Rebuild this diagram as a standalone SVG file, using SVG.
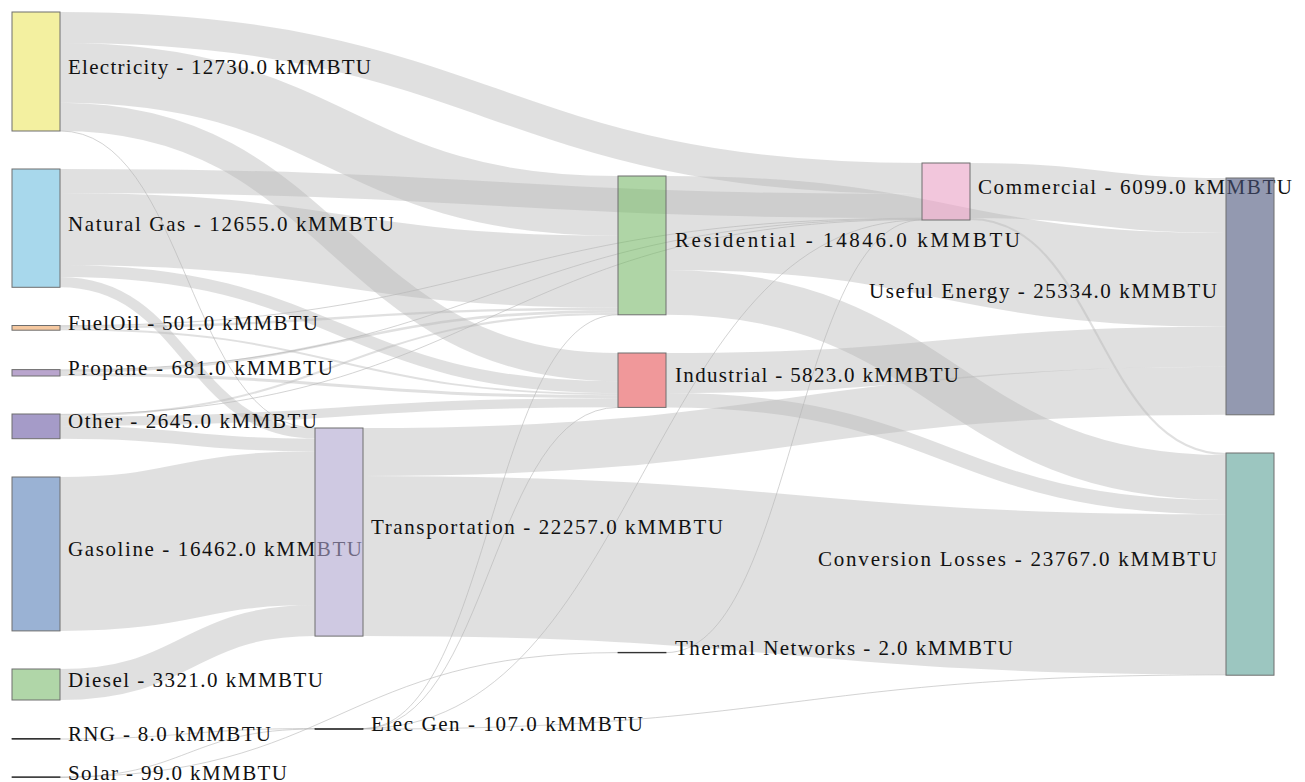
<svg xmlns="http://www.w3.org/2000/svg" width="1305" height="782" viewBox="0 0 1305 782">
  <style>
    .lk { fill: none; stroke: #b5b5b5; stroke-opacity: 0.42; }
    .th { fill: none; stroke: #b5b5b5; stroke-opacity: 0.6; stroke-width: 1; }
    .nd { stroke: #6e6e6e; stroke-width: 1; fill-opacity: 0.6; }
    .ln { fill: #333; stroke: #333; stroke-width: 0.8; }
    .lb { font-family: "Liberation Serif", "Times New Roman", serif; font-size: 21px; fill: #111; }
    .end { text-anchor: end; }
  </style>
  <rect width="1305" height="782" fill="#ffffff"/>

  <!-- flows: cubic ribbons between node edges, width proportional to value -->
  <g id="links">
    <!-- Electricity -->
    <path class="lk" stroke-width="31.01" d="M60,27.51C491,27.51 491,178.5 922,178.5"/>
    <path class="lk" stroke-width="59.64" d="M60,72.83C339,72.83 339,205.82 618,205.82"/>
    <path class="lk" stroke-width="28.26" d="M60,116.78C339,116.78 339,367.13 618,367.13"/>
    <path class="th" d="M60,130.95C187.5,130.95 187.5,428.05 315,428.05"/>
    <!-- Natural Gas -->
    <path class="lk" stroke-width="24.02" d="M60,181.01C491,181.01 491,206.02 922,206.02"/>
    <path class="lk" stroke-width="71.98" d="M60,229.01C339,229.01 339,271.63 618,271.63"/>
    <path class="lk" stroke-width="12.01" d="M60,271C339,271 339,387.27 618,387.27"/>
    <path class="lk" stroke-width="10.28" d="M60,282.15C187.5,282.15 187.5,433.23 315,433.23"/>
    <!-- FuelOil -->
    <path class="th" d="M60,325.73C491,325.73 491,218.27 922,218.27"/>
    <path class="lk" stroke-width="2.34" d="M60,327.14C339,327.14 339,308.79 618,308.79"/>
    <path class="lk" stroke-width="1.88" d="M60,329.25C339,329.25 339,394.21 618,394.21"/>
    <!-- Propane -->
    <path class="th" d="M60,369.93C491,369.93 491,218.83 922,218.83"/>
    <path class="lk" stroke-width="2.72" d="M60,371.61C339,371.61 339,311.32 618,311.32"/>
    <path class="lk" stroke-width="2.99" d="M60,374.47C339,374.47 339,396.65 618,396.65"/>
    <!-- Other -->
    <path class="th" d="M60,414.37C491,414.37 491,219.53 922,219.53"/>
    <path class="lk" stroke-width="2.01" d="M60,415.75C339,415.75 339,313.69 618,313.69"/>
    <path class="lk" stroke-width="9.22" d="M60,421.37C339,421.37 339,402.75 618,402.75"/>
    <path class="lk" stroke-width="12.75" d="M60,432.35C187.5,432.35 187.5,444.75 315,444.75"/>
    <!-- Gasoline, Diesel -->
    <path class="lk" stroke-width="153.89" d="M60,553.95C187.5,553.95 187.5,528.07 315,528.07"/>
    <path class="lk" stroke-width="31.04" d="M60,684.52C187.5,684.52 187.5,620.53 315,620.53"/>
    <!-- RNG, Solar -->
    <path class="th" d="M60,739.03C187.5,739.03 187.5,728.54 315,728.54"/>
    <path class="th" d="M60,777.01C339,777.01 339,652.6 618,652.6"/>
    <path class="th" d="M60,777.47C187.5,777.47 187.5,729.02 315,729.02"/>
    <!-- Elec Gen -->
    <path class="th" d="M363,728.55C642.5,728.55 642.5,219.97 922,219.97"/>
    <path class="th" d="M363,728.64C490.5,728.64 490.5,314.74 618,314.74"/>
    <path class="th" d="M363,728.72C490.5,728.72 490.5,407.4 618,407.4"/>
    <path class="th" d="M363,729.13C794.5,729.13 794.5,674.81 1226,674.81"/>
    <!-- Thermal Networks -->
    <path class="th" d="M666,652.6C794,652.6 794,219.91 922,219.91"/>
    <!-- Residential -->
    <path class="lk" stroke-width="93.89" d="M666,222.95C946,222.95 946,279.91 1226,279.91"/>
    <path class="lk" stroke-width="44.89" d="M666,292.34C946,292.34 946,477.5 1226,477.5"/>
    <!-- Industrial -->
    <path class="lk" stroke-width="40.01" d="M666,373C946,373 946,346.86 1226,346.86"/>
    <path class="lk" stroke-width="14.42" d="M666,400.22C946,400.22 946,507.15 1226,507.15"/>
    <!-- Transportation -->
    <path class="lk" stroke-width="47.98" d="M363,451.99C794.5,451.99 794.5,390.86 1226,390.86"/>
    <path class="lk" stroke-width="160.08" d="M363,556.02C794.5,556.02 794.5,594.4 1226,594.4"/>
    <!-- Commercial -->
    <path class="lk" stroke-width="54.97" d="M970,190.48C1098,190.48 1098,205.48 1226,205.48"/>
    <path class="lk" stroke-width="2.05" d="M970,219C1098,219 1098,454.02 1226,454.02"/>
  </g>

  <g id="node-electricity">
    <rect class="nd" x="12" y="12" width="48" height="119" fill="#ebe661"/>
    <text class="lb" x="68" y="73.5" textLength="303" lengthAdjust="spacing">Electricity - 12730.0 kMMBTU</text>
  </g>
  <g id="node-natural-gas">
    <rect class="nd" x="12" y="169" width="48" height="118.3" fill="#6ebedf"/>
    <text class="lb" x="68" y="230.6" textLength="326" lengthAdjust="spacing">Natural Gas - 12655.0 kMMBTU</text>
  </g>
  <g id="node-fueloil">
    <rect class="nd" x="12" y="325.5" width="48" height="4.7" fill="#eea361"/>
    <text class="lb" x="68" y="330" textLength="250" lengthAdjust="spacing">FuelOil - 501.0 kMMBTU</text>
  </g>
  <g id="node-propane">
    <rect class="nd" x="12" y="369.6" width="48" height="6.4" fill="#8a69ac"/>
    <text class="lb" x="68" y="374.8" textLength="265" lengthAdjust="spacing">Propane - 681.0 kMMBTU</text>
  </g>
  <g id="node-other">
    <rect class="nd" x="12" y="414" width="48" height="24.7" fill="#6958a3"/>
    <text class="lb" x="68" y="428.4" textLength="249" lengthAdjust="spacing">Other - 2645.0 kMMBTU</text>
  </g>
  <g id="node-gasoline">
    <rect class="nd" x="12" y="477" width="48" height="153.9" fill="#577fb7"/>
    <text class="lb" x="68" y="556" textLength="294" lengthAdjust="spacing">Gasoline - 16462.0 kMMBTU</text>
  </g>
  <g id="node-diesel">
    <rect class="nd" x="12" y="669" width="48" height="31" fill="#7bbb6e"/>
    <text class="lb" x="68" y="686.5" textLength="255" lengthAdjust="spacing">Diesel - 3321.0 kMMBTU</text>
  </g>
  <g id="node-rng">
    <rect class="ln" x="12" y="738.6" width="48" height="0.6"/>
    <text class="lb" x="68" y="741" textLength="203" lengthAdjust="spacing">RNG - 8.0 kMMBTU</text>
  </g>
  <g id="node-solar">
    <rect class="ln" x="12" y="776.8" width="48" height="0.8"/>
    <text class="lb" x="68" y="779.5" textLength="219" lengthAdjust="spacing">Solar - 99.0 kMMBTU</text>
  </g>
  <g id="node-residential">
    <rect class="nd" x="618" y="176" width="48" height="138.8" fill="#7ab96b"/>
    <text class="lb" x="675" y="247.4" textLength="345" lengthAdjust="spacing">Residential - 14846.0 kMMBTU</text>
  </g>
  <g id="node-commercial">
    <rect class="nd" x="922" y="163" width="48" height="57" fill="#e9a0c5"/>
    <text class="lb" x="978" y="193.5" textLength="314" lengthAdjust="spacing">Commercial - 6099.0 kMMBTU</text>
  </g>
  <g id="node-industrial">
    <rect class="nd" x="618" y="353" width="48" height="54.4" fill="#e65357"/>
    <text class="lb" x="675" y="382.2" textLength="284" lengthAdjust="spacing">Industrial - 5823.0 kMMBTU</text>
  </g>
  <g id="node-transportation">
    <rect class="nd" x="315" y="428" width="48" height="208.1" fill="#afa5cf"/>
    <text class="lb" x="371" y="534" textLength="352" lengthAdjust="spacing">Transportation - 22257.0 kMMBTU</text>
  </g>
  <g id="node-elec-gen">
    <rect class="ln" x="315" y="728.6" width="48" height="0.8"/>
    <text class="lb" x="371" y="731" textLength="272" lengthAdjust="spacing">Elec Gen - 107.0 kMMBTU</text>
  </g>
  <g id="node-thermal-networks">
    <rect class="ln" x="618" y="652.3" width="48" height="0.6"/>
    <text class="lb" x="675" y="654.6" textLength="338" lengthAdjust="spacing">Thermal Networks - 2.0 kMMBTU</text>
  </g>
  <g id="node-useful-energy">
    <rect class="nd" x="1226" y="178" width="48" height="236.8" fill="#4b557b"/>
    <text class="lb end" x="1217" y="298.4" textLength="348" lengthAdjust="spacing">Useful Energy - 25334.0 kMMBTU</text>
  </g>
  <g id="node-conversion-losses">
    <rect class="nd" x="1226" y="453" width="48" height="222.2" fill="#5aa096"/>
    <text class="lb end" x="1217" y="566.1" textLength="399" lengthAdjust="spacing">Conversion Losses - 23767.0 kMMBTU</text>
  </g>
</svg>
